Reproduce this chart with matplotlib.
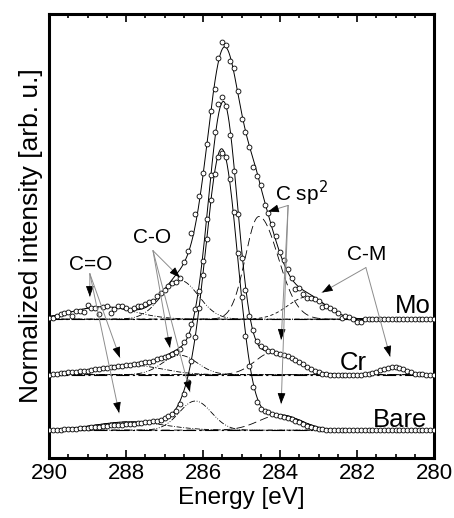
#!/usr/bin/env python3
"""
C 1s XPS spectra (Mo / Cr / Bare) with peak-fit components
"""

import numpy as np
import matplotlib
matplotlib.use("Agg")
import matplotlib.pyplot as plt

plt.rcParams['font.family'] = ['Liberation Sans', 'DejaVu Sans']

# --------------------- data ---------------------
energy = np.round(np.arange(290.0, 279.95, -0.1), 1)     # 290.0 ... 280.0 eV, 0.1 eV step

mo = [0.006, 0.006, 0.010, 0.018, 0.021, 0.025, 0.012, 0.030, 0.030, 0.026,
      0.051, 0.039, 0.042, 0.017, 0.044, 0.048, 0.021, 0.035, 0.047, 0.047,
      0.042, 0.032, 0.042, 0.047, 0.047, 0.054, 0.062, 0.064, 0.083, 0.093,
      0.105, 0.120, 0.131, 0.135, 0.150, 0.205, 0.245, 0.310, 0.379, 0.444,
      0.527, 0.632, 0.751, 0.829, 0.943, 0.999, 0.988, 0.932, 0.904, 0.822,
      0.721, 0.675, 0.620, 0.549, 0.517, 0.483, 0.413, 0.383, 0.343, 0.301,
      0.241, 0.212, 0.181, 0.149, 0.107, 0.114, 0.089, 0.078, 0.075, 0.072,
      0.066, 0.044, 0.049, 0.042, 0.032, 0.021, 0.006, 0.011, 0.008, 0.000,
      -0.010, -0.009, 0.000, 0.001, 0.000, -0.001, 0.000, 0.001, 0.000, 0.000,
      0.000, -0.001, 0.000, 0.000, 0.001, 0.000, 0.000, 0.000, 0.000, 0.000,
      0.000]

cr = [0.000, 0.002, 0.003, 0.005, 0.006, 0.008, 0.009, 0.011, 0.012, 0.014,
      0.015, 0.017, 0.019, 0.021, 0.023, 0.025, 0.027, 0.029, 0.031, 0.033,
      0.035, 0.036, 0.038, 0.040, 0.042, 0.045, 0.047, 0.051, 0.055, 0.059,
      0.063, 0.067, 0.073, 0.081, 0.094, 0.116, 0.143, 0.184, 0.237, 0.300,
      0.409, 0.560, 0.720, 0.875, 0.975, 1.000, 0.969, 0.865, 0.734, 0.578,
      0.419, 0.304, 0.210, 0.160, 0.120, 0.105, 0.096, 0.087, 0.084, 0.078,
      0.076, 0.070, 0.066, 0.060, 0.054, 0.044, 0.037, 0.028, 0.020, 0.015,
      0.008, 0.004, 0.002, 0.000, -0.002, -0.002, -0.001, 0.000, -0.001, 0.000,
      0.000, 0.000, 0.001, 0.003, 0.006, 0.011, 0.016, 0.020, 0.024, 0.027,
      0.028, 0.025, 0.020, 0.014, 0.008, 0.004, 0.002, 0.001, 0.000, 0.000,
      0.000]

bare = [0.000, 0.001, 0.001, 0.002, 0.003, 0.004, 0.005, 0.006, 0.007, 0.008,
        0.009, 0.010, 0.011, 0.013, 0.014, 0.015, 0.017, 0.018, 0.019, 0.020,
        0.021, 0.022, 0.024, 0.026, 0.027, 0.028, 0.030, 0.032, 0.034, 0.038,
        0.043, 0.052, 0.060, 0.070, 0.095, 0.130, 0.175, 0.250, 0.335, 0.440,
        0.560, 0.690, 0.830, 0.922, 0.983, 1.000, 0.984, 0.907, 0.788, 0.640,
        0.480, 0.340, 0.232, 0.156, 0.100, 0.078, 0.069, 0.064, 0.060, 0.055,
        0.052, 0.048, 0.043, 0.040, 0.034, 0.028, 0.022, 0.016, 0.012, 0.008,
        0.006, 0.004, 0.002, 0.001, 0.000, 0.000, 0.000, 0.000, 0.000, 0.000,
        0.000, 0.000, 0.000, 0.000, 0.000, 0.000, 0.000, 0.000, 0.000, 0.000,
        0.000, 0.000, 0.000, 0.000, 0.000, 0.000, 0.000, 0.000, 0.000, 0.000,
        0.000]

samples = ['Mo', 'Cr', 'Bare']
offsets = [0.5, 0.3, 0.1]

# fit components: (centre [eV], height, sigma high-BE side, sigma low-BE side)
mo_comp = {'main': (285.45, 0.96, 0.45, 0.45), 'sp2': (284.55, 0.37, 0.35, 0.50),
           'CO': (286.60, 0.14, 0.48, 0.48), 'C=O': (288.60, 0.045, 0.80, 0.80),
           'CM': (283.30, 0.08, 0.50, 0.50)}
cr_comp = {'main': (285.47, 0.98, 0.40, 0.37), 'sp2': (284.20, 0.08, 0.45, 0.60),
           'CO': (286.60, 0.07, 0.45, 0.45), 'C=O': (287.90, 0.035, 0.80, 0.80),
           'CM': (281.05, 0.028, 0.30, 0.30)}
bare_comp = {'main': (285.50, 0.985, 0.41, 0.41), 'sp2': (284.00, 0.055, 0.55, 0.55),
             'CO': (286.20, 0.105, 0.42, 0.42), 'C=O': (287.90, 0.03, 0.90, 0.90)}

# line style of each component
comp_dash = {'main': None, 'sp2': [10, 5], 'CO': [7, 2, 1, 2, 1, 2],
             'C=O': [6, 2, 1, 2], 'CM': [4, 3]}
# ------------------------------------------------


def peak(E, c, h, sl, sr):
    s = np.where(E > c, sl, sr)
    return h * np.exp(-(E - c) ** 2 / (2 * s ** 2))


fig = plt.figure(figsize=(4.54, 5.18), dpi=100)
ax = fig.add_axes([0.108, 0.116, 0.848, 0.857])
ax.set_xlim(290, 280)
ax.set_ylim(0, 1.6)

Ef = np.linspace(290, 280, 801)

for name, off, dat, comps in zip(samples, offsets, [mo, cr, bare],
                                 [mo_comp, cr_comp, bare_comp]):
    # baseline
    ax.plot([290, 280], [off, off], color='k', lw=0.8, dashes=[12, 3, 2, 3])
    env = np.zeros_like(Ef)
    for key, p in comps.items():
        c = peak(Ef, *p)
        env += c
        if key == 'main':
            continue
        ax.plot(Ef, c + off, color='k', lw=0.6, dashes=comp_dash[key])
    ax.plot(Ef, env + off, color='k', lw=0.7, zorder=2)
    ax.plot(energy, np.array(dat) + off, 'o', mfc='white', mec='k',
            ms=3.5, mew=0.6, zorder=3)

# ------------------------- labels / arrows -------------------------
fs = 15
ax.text(288.91, 0.697, 'C=O', fontsize=fs, ha='center', va='center')
ax.text(287.32, 0.794, 'C-O', fontsize=fs, ha='center', va='center')
ax.text(283.45, 0.955, r'C sp$^2$', fontsize=fs, ha='center', va='center')
ax.text(281.74, 0.733, 'C-M', fontsize=fs, ha='center', va='center')
ax.text(280.08, 0.548, 'Mo', fontsize=18.5, ha='right', va='center')
ax.text(282.10, 0.342, 'Cr', fontsize=18.5, ha='center', va='center')
ax.text(280.18, 0.136, 'Bare', fontsize=18.5, ha='right', va='center')

arrows = [
    ((288.94, 0.664), (288.94, 0.581)),
    ((288.94, 0.664), (288.16, 0.361)),
    ((288.94, 0.664), (288.18, 0.162)),
    ((287.30, 0.747), (286.60, 0.650)),
    ((287.30, 0.747), (286.86, 0.397)),
    ((287.30, 0.747), (286.34, 0.238)),
    ((283.79, 0.910), (284.31, 0.888)),
    ((283.79, 0.910), (283.97, 0.426)),
    ((283.79, 0.910), (283.97, 0.195)),
    ((281.77, 0.686), (282.91, 0.596)),
    ((281.77, 0.686), (281.14, 0.365)),
]

for (x0, y0), (x1, y1) in arrows:
    ax.annotate('', xy=(x1, y1), xytext=(x0, y0),
                arrowprops=dict(arrowstyle='-', color='0.55', lw=0.7,
                                shrinkA=0, shrinkB=0))
    p0 = ax.transData.transform((x0, y0))
    p1 = ax.transData.transform((x1, y1))
    d = (p0 - p1) / np.hypot(*(p0 - p1))
    back = d * 10 * 72 / fig.dpi
    ax.annotate('', xy=(x1, y1), xytext=(back[0], back[1]),
                textcoords='offset points',
                arrowprops=dict(arrowstyle='-|>,head_length=0.65,head_width=0.24',
                                color='k', lw=0.6, shrinkA=0, shrinkB=0))

# ------------------------- axes -------------------------
ax.set_xticks(np.arange(290, 279, -2))
ax.set_xticks(np.arange(290, 279.9, -0.5), minor=True)
ax.set_yticks([])
ax.tick_params(axis='x', which='both', direction='in', top=True, labelsize=16,
               width=1.2, pad=4)
ax.tick_params(axis='x', which='major', length=6)
ax.tick_params(axis='x', which='minor', length=3)
for s in ax.spines.values():
    s.set_linewidth(2.2)

ax.set_xlabel('Energy [eV]', fontsize=17.5, labelpad=2)
ax.set_ylabel('Normalized intensity [arb. u.]', fontsize=19, labelpad=4)

fig.savefig('out.png', dpi=100)
